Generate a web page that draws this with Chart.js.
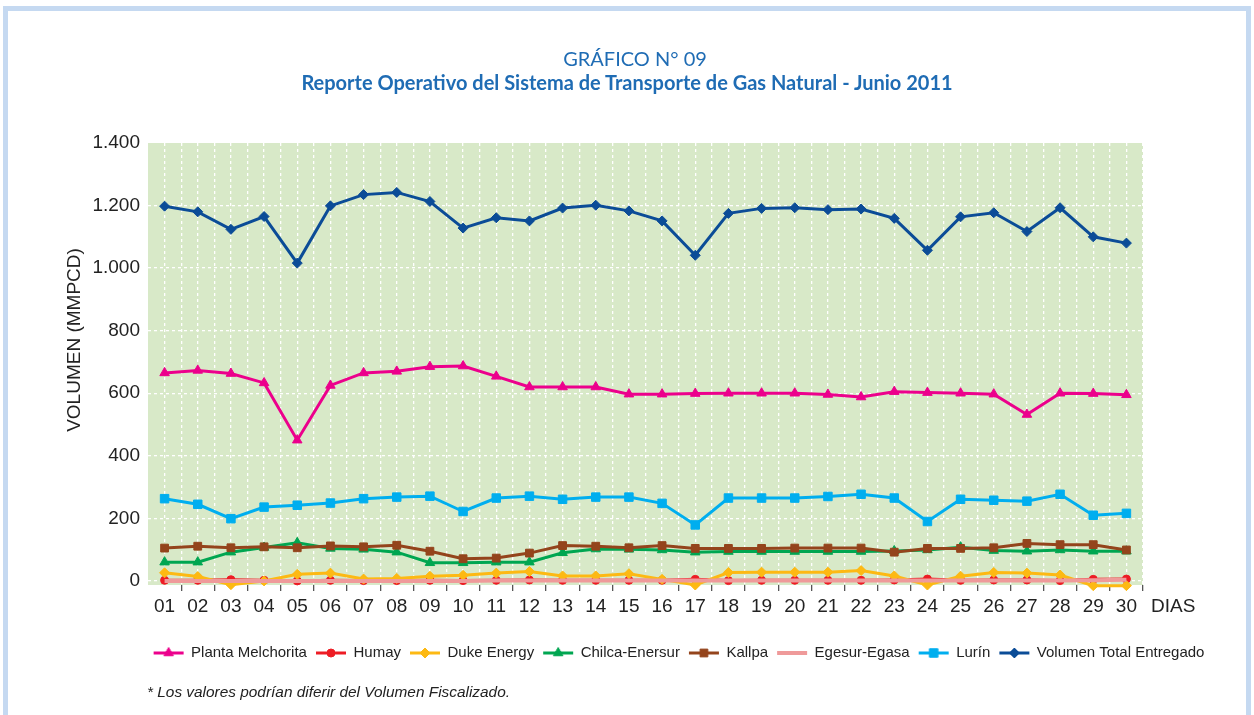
<!DOCTYPE html>
<html><head><meta charset="utf-8">
<script src="https://cdn.jsdelivr.net/npm/chart.js@4.4.1/dist/chart.umd.min.js"></script>
<style>
html,body{margin:0;padding:0;background:#fff;}
body{width:1254px;height:715px;position:relative;overflow:hidden;}
#frame{position:absolute;left:3px;top:6px;width:1248px;height:760px;border:5px solid #c5d9f1;box-sizing:border-box;}
#c{position:absolute;left:0;top:0;}
.ttl{position:absolute;white-space:nowrap;color:#1f6cb4;font-family:Lato,"Open Sans",sans-serif;line-height:24px;transform:translateX(-50%);}
#t1{left:635px;top:45.5px;font-size:20px;font-weight:400;}
#t2{left:627px;top:70px;font-size:20px;font-weight:700;}
#note{position:absolute;left:147px;top:682px;font-family:"Liberation Sans",Arial,sans-serif;font-style:italic;font-size:15.4px;line-height:20px;color:#222;white-space:nowrap;}
</style></head>
<body>
<div id="frame"></div>
<canvas id="c" width="1254" height="715"></canvas>
<div class="ttl" id="t1">GRÁFICO N° 09</div>
<div class="ttl" id="t2">Reporte Operativo del Sistema de Transporte de Gas Natural - Junio 2011</div>
<div id="note">* Los valores podrían diferir del Volumen Fiscalizado.</div>
<script>
// ---- data ----
const DAYS = ['01','02','03','04','05','06','07','08','09','10','11','12','13','14','15','16','17','18','19','20','21','22','23','24','25','26','27','28','29','30'];
const X_UNIT = 'DIAS';
const Y_TITLE = 'VOLUMEN (MMPCD)';
const Y_TICKS = [0,200,400,600,800,1000,1200,1400];
const Y_TICK_LABELS = ['0','200','400','600','800','1.000','1.200','1.400'];
const SERIES_NAMES = ['Planta Melchorita','Humay','Duke Energy','Chilca-Enersur','Kallpa','Egesur-Egasa','Lurín','Volumen Total Entregado'];
const MELCHORITA = [665,673,663,633,450,625,665,670,685,687,654,620,620,620,597,597,599,600,600,600,596,588,605,602,600,597,532,600,599,595];
const HUMAY = [2,2,4,2,0,2,1,1,2,1,2,3,2,2,2,2,5,1,2,2,2,2,3,6,2,3,3,1,5,6];
const DUKE = [26,14,-12,0,21,25,6,8,15,18,25,30,16,16,23,5,-13,27,28,28,28,33,16,-13,15,27,25,19,-15,-15];
const CHILCA = [60,60,92,107,122,104,101,92,58,58,60,60,90,102,101,99,92,94,94,94,94,94,96,99,108,97,95,99,95,95];
const KALLPA = [105,111,106,109,106,112,109,114,95,71,73,89,113,111,106,113,104,104,104,105,105,105,92,104,104,106,120,116,116,99];
const EGESUR = [0,0,0,0,0,0,0,0,0,0,1,1,1,1,1,1,1,1,1,1,1,1,1,1,1,1,1,1,2,4];
const LURIN = [263,245,199,236,242,249,263,268,271,222,265,271,261,268,268,248,179,265,265,265,270,277,265,190,261,258,255,277,210,216];
const TOTAL = [1198,1180,1124,1165,1016,1199,1235,1242,1213,1128,1161,1151,1192,1201,1183,1151,1041,1175,1191,1193,1187,1189,1159,1057,1164,1177,1117,1193,1100,1080];

// ---- styles ----
const FONT = '"Liberation Sans", Arial, sans-serif';
const TXT = '#222222';
const PLOT_BG = '#d8e9c8';
const GRID = '#ffffff';
const STYLES = [
  {color:'#ec008c', point:'triangle', r:5.5, w:3},
  {color:'#ed1c24', point:'circle', r:4, w:3},
  {color:'#fdb913', point:'rectRot', r:5, w:3},
  {color:'#00a651', point:'triangle', r:5.5, w:3},
  {color:'#94441c', point:'rect', r:5.5, w:3},
  {color:'#ef9a9a', point:false, r:0, w:4},
  {color:'#00aeef', point:'rect', r:6, w:3},
  {color:'#0b4c97', point:'rectRot', r:5, w:3}
];
const VALUES = [MELCHORITA, HUMAY, DUKE, CHILCA, KALLPA, EGESUR, LURIN, TOTAL];

const datasets = VALUES.map((vals, i) => {
  const s = STYLES[i];
  return {
    label: SERIES_NAMES[i], data: vals, xAxisID:'x', yAxisID:'y',
    borderColor: s.color, backgroundColor: s.color, borderWidth: s.w,
    pointStyle: s.point || 'circle', pointRadius: s.r, pointHoverRadius: s.r,
    pointBackgroundColor: s.color, pointBorderColor: s.color, pointBorderWidth: 1,
    tension: 0, clip: false, order: VALUES.length - i, fill:false
  };
});

function drawMarker(g, style, r, x, y){
  g.beginPath();
  if (style === 'triangle') {
    g.moveTo(x, y - r);
    g.lineTo(x + r*Math.sin(2*Math.PI/3), y - r*Math.cos(2*Math.PI/3));
    g.lineTo(x + r*Math.sin(4*Math.PI/3), y - r*Math.cos(4*Math.PI/3));
    g.closePath();
  } else if (style === 'circle') {
    g.arc(x, y, r, 0, Math.PI*2);
  } else if (style === 'rectRot') {
    g.moveTo(x - r, y); g.lineTo(x, y - r); g.lineTo(x + r, y); g.lineTo(x, y + r); g.closePath();
  } else if (style === 'rect') {
    const h = r*Math.SQRT1_2; g.rect(x - h, y - h, 2*h, 2*h);
  }
  g.fill(); g.stroke();
}
function makeIcon(i){
  const s = STYLES[i];
  const c = document.createElement('canvas'); c.width = 32; c.height = 14;
  const g = c.getContext('2d');
  g.strokeStyle = s.color; g.lineWidth = s.w;
  g.beginPath(); g.moveTo(1, 7); g.lineTo(31, 7); g.stroke();
  if (s.point) { g.fillStyle = s.color; g.lineWidth = 1; drawMarker(g, s.point, s.r, 16, 7); }
  return c;
}
const ICONS = STYLES.map((s, i) => makeIcon(i));

const plotBg = {id:'plotBg', beforeDraw(chart){
  const {ctx, chartArea:a} = chart; ctx.save(); ctx.fillStyle = PLOT_BG;
  ctx.fillRect(a.left, a.top, a.right - a.left, a.bottom - a.top); ctx.restore();
}};
const X_TICK_LEN = 6, X_TICK_PAD = 4, TICK_FONT = 19;
const axisTexts = {id:'axisTexts', afterDraw(chart){
  const {ctx} = chart; const xs = chart.scales.x;
  ctx.save(); ctx.font = TICK_FONT + 'px ' + FONT; ctx.fillStyle = TXT;
  ctx.textAlign = 'left'; ctx.textBaseline = 'middle';
  ctx.fillText(X_UNIT, chart.chartArea.right + 8, xs.top + X_TICK_LEN + X_TICK_PAD + TICK_FONT*1.2/2);
  // y axis title (rotated), centred a little above the plot's middle as in the source
  ctx.translate(75, 340); ctx.rotate(-Math.PI/2);
  ctx.textAlign = 'center';
  ctx.fillText(Y_TITLE, 0, 0);
  ctx.restore();
}};
const LEGEND_CENTER = 679;
const legendShift = {id:'legendShift', afterLayout(chart){
  const l = chart.legend; if (!l) return;
  const dx = LEGEND_CENTER - (l.left + l.right)/2; l.left += dx; l.right += dx;
}};

new Chart(document.getElementById('c'), {
  type:'line',
  data:{labels: DAYS, datasets},
  plugins:[plotBg, axisTexts, legendShift],
  options:{
    responsive:false, animation:false, devicePixelRatio:1,
    events:[],
    layout:{padding:{left:60, top:143, right:111, bottom:44.5}},
    plugins:{
      title:{display:false}, tooltip:{enabled:false},
      legend:{display:true, position:'bottom', align:'center',
        labels:{usePointStyle:true, pointStyleWidth:30, boxHeight:15, padding:9, color:TXT,
          font:{family:FONT, size:15},
          generateLabels(chart){
            return chart.data.datasets.map((ds, i) => ({text: ds.label, pointStyle: ICONS[i], datasetIndex:i,
              hidden:false, fillStyle:'rgba(0,0,0,0)', strokeStyle:'rgba(0,0,0,0)', lineWidth:0, fontColor:TXT}));
          }}}
    },
    scales:{
      x:{type:'category', offset:true, position:'bottom',
        grid:{offset:true, drawOnChartArea:true, lineWidth:1.3, tickLength:X_TICK_LEN, tickWidth:1.3,
          color:(c)=> (c.index === 0 || c.index === DAYS.length) ? 'rgba(0,0,0,0)' : GRID,
          tickColor:(c)=> c.index === 0 ? 'rgba(0,0,0,0)' : '#555555'},
        border:{display:false, dash:[3,3]},
        ticks:{color:TXT, font:{family:FONT, size:TICK_FONT}, padding:X_TICK_PAD, maxRotation:0, autoSkip:false},
        afterFit(s){ s.height = 51.5; }
      },
      x2:{type:'category', labels: DAYS, offset:true, position:'bottom',
        grid:{offset:false, drawTicks:false, lineWidth:1.3, color:GRID},
        border:{display:false, dash:[3,3]},
        ticks:{display:false},
        afterFit(s){ s.height = 0; }
      },
      y:{type:'linear', min:-13, max:1400,
        afterBuildTicks(s){ s.ticks = Y_TICKS.map(v => ({value:v})); },
        grid:{drawTicks:false, lineWidth:1.3, color:(c)=> (c.tick && c.tick.value === 1400) ? 'rgba(0,0,0,0)' : GRID},
        border:{display:false, dash:[3,3]},
        ticks:{color:TXT, font:{family:FONT, size:TICK_FONT}, padding:8, callback:(v, i)=> Y_TICK_LABELS[i]},
        title:{display:false},
        afterFit(s){ s.width = 88; }
      }
    }
  }
});
</script>
</body></html>
